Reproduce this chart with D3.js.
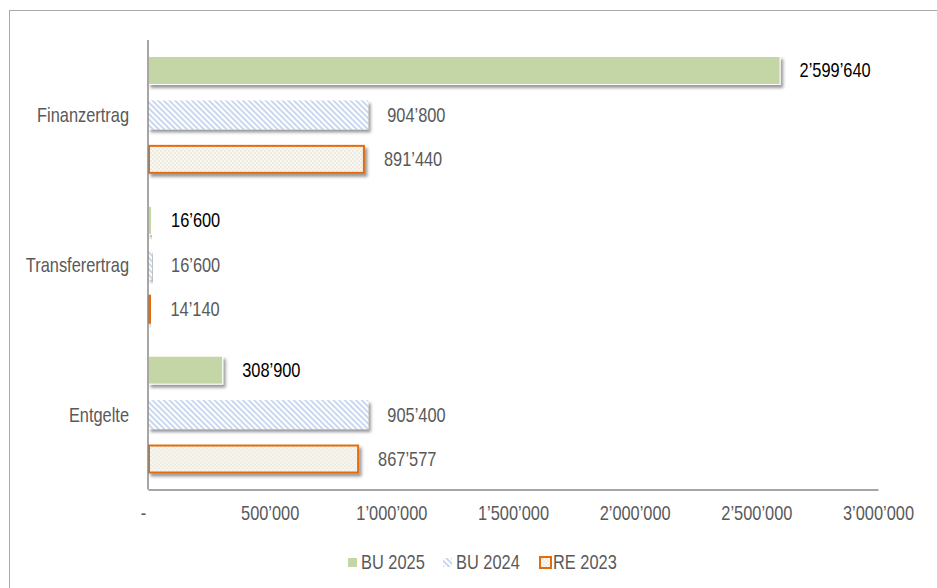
<!DOCTYPE html>
<html><head><meta charset="utf-8">
<script src="https://cdn.jsdelivr.net/npm/d3@7"></script>
<style>
html,body{margin:0;padding:0;background:#fff;}
svg{display:block;}
text{font-family:"Liberation Sans",Arial,sans-serif;}
</style></head>
<body>
<svg id="chart" width="937" height="588"></svg>
<script>
const categories = ["Finanzertrag", "Transferertrag", "Entgelte"];
const seriesNames = ["BU 2025", "BU 2024", "RE 2023"];
const bu2025 = [2599640, 16600, 308900];
const bu2024 = [904800, 16600, 905400];
const re2023 = [891440, 14140, 867577];
const tickValues = [0, 500000, 1000000, 1500000, 2000000, 2500000, 3000000];

const seriesValues = [bu2025, bu2024, re2023];
const fmt = v => v === 0 ? "-" : d3.format(",")(v).replace(/,/g, "\u2019");
const FS = 20, SX = 0.82;

const svg = d3.select("#chart");
const defs = svg.append("defs");

// shadow
const f = defs.append("filter").attr("id","shadow").attr("x","-5%").attr("y","-30%").attr("width","115%").attr("height","180%");
f.append("feDropShadow").attr("dx",2.5).attr("dy",3).attr("stdDeviation",1.6)
  .attr("flood-color","#000").attr("flood-opacity",0.4);

// stripes pattern (BU 2024)
const p1 = defs.append("pattern").attr("id","stripes").attr("patternUnits","userSpaceOnUse")
  .attr("width",4).attr("height",4).attr("patternTransform","rotate(-45)");
p1.append("rect").attr("width",4).attr("height",4).attr("fill","#ffffff");
p1.append("rect").attr("width",2).attr("height",4).attr("fill","#c9d8ee");

// checker pattern (RE 2023)
const p2 = defs.append("pattern").attr("id","checker").attr("patternUnits","userSpaceOnUse")
  .attr("width",4).attr("height",4);
p2.append("rect").attr("width",4).attr("height",4).attr("fill","#eeebe0");
p2.append("rect").attr("width",2).attr("height",2).attr("fill","#f8f7f2");
p2.append("rect").attr("x",2).attr("y",2).attr("width",2).attr("height",2).attr("fill","#f8f7f2");

const fills = ["#c4d6a6", "url(#stripes)", "url(#checker)"];
const strokes = ["#ffffff", "none", "#e46c0a"];
const strokeW = [1, 0, 2];
const labelColors = ["#000000", "#595959", "#595959"];

function narrowText(sel, x, y, anchor) {
  return sel.append("text")
    .attr("transform", `translate(${x},${y}) scale(${SX},1)`)
    .attr("dy", "0.35em")
    .attr("text-anchor", anchor || "start")
    .attr("font-size", FS);
}

// outer border
svg.append("rect").attr("x",9.5).attr("y",10.5).attr("width",960).attr("height",600)
  .attr("fill","none").attr("stroke","#a9a9a9").attr("stroke-width",1);

const x = d3.scaleLinear().domain([0, 3000000]).range([148, 878]);
const y = d3.scaleBand().domain(categories).range([40, 489.5]);
const yInner = d3.scaleBand().domain(seriesNames).range([0, y.bandwidth()])
  .paddingInner(0.348).paddingOuter(0.36);

// bars
const groups = svg.append("g").selectAll("g").data(categories).join("g")
  .attr("transform", c => `translate(0,${y(c)})`);

groups.each(function(c, ci){
  const g = d3.select(this);
  seriesNames.forEach((s, si) => {
    const v = seriesValues[si][ci];
    const sw = strokeW[si];
    g.append("rect")
      .attr("x", x(0) + sw/2)
      .attr("y", yInner(s) + sw/2)
      .attr("width", Math.max(1, x(v) - x(0) - sw))
      .attr("height", yInner.bandwidth() - sw)
      .attr("fill", fills[si])
      .attr("stroke", strokes[si])
      .attr("stroke-width", sw)
      .attr("filter","url(#shadow)");
    narrowText(g, x(v) + 19, yInner(s) + yInner.bandwidth()/2)
      .attr("fill", labelColors[si])
      .text(fmt(v));
  });
});

// category labels
const cg = svg.append("g");
categories.forEach(c => {
  narrowText(cg, 129, y(c) + y.bandwidth()/2, "end").attr("fill","#595959").text(c);
});

// axes lines
svg.append("line").attr("x1",148).attr("x2",148).attr("y1",40).attr("y2",489.5)
  .attr("stroke","#898989").attr("stroke-width",1.5);
const xAxis = d3.axisBottom(x).tickValues(tickValues).tickSize(0).tickPadding(0).tickFormat(fmt);
const ax = svg.append("g").attr("transform","translate(0,489.5)").call(xAxis);
ax.select(".domain").attr("stroke","#898989").attr("stroke-width",1.5);
ax.selectAll("text").attr("font-size",FS).attr("fill","#595959")
  .attr("y", 24).attr("dy","0.35em")
  .attr("x", d => d === 0 ? -6 : 0)
  .attr("transform", `scale(${SX},1)`)
  .style("font-family", '"Liberation Sans",Arial,sans-serif');

// legend
const legendX = [348, 443, 539];
const lg = svg.append("g").selectAll("g").data(seriesNames).join("g")
  .attr("transform", (d,i) => `translate(${legendX[i]},562)`);
lg.append("rect").attr("x", (d,i) => i===2 ? 1 : 0).attr("y", (d,i) => i===2 ? -5 : -4)
  .attr("width", (d,i) => i===2 ? 11 : 9).attr("height", (d,i) => i===2 ? 11 : 9)
  .attr("fill", (d,i) => fills[i]).attr("stroke", (d,i) => strokes[i] === "#ffffff" ? "none" : strokes[i])
  .attr("stroke-width", (d,i) => strokeW[i]);
lg.each(function(d,i){
  narrowText(d3.select(this), i===2 ? 14 : 13, 0).attr("fill","#595959").text(d);
});
</script>
</body></html>
